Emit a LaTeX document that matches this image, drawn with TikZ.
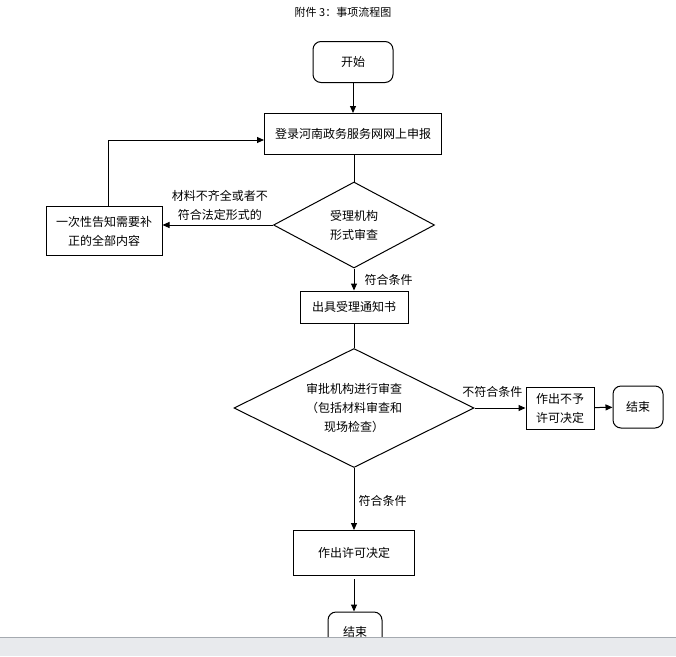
\documentclass[tikz,border=0pt]{standalone}
\usepackage{fontspec}
\setmainfont{Noto Sans CJK SC}
\usetikzlibrary{shapes.geometric,arrows.meta}
\definecolor{barfill}{RGB}{232,234,237}
\definecolor{barline}{RGB}{165,170,176}
\tikzset{
  txt/.style={font=\fontsize{12}{19}\selectfont, align=center, inner sep=0pt},
  stepbox/.style={txt, draw, line width=1pt, rectangle},
  roundbox/.style={txt, draw, line width=1pt, rectangle, rounded corners=8pt},
  decide/.style={txt, draw, line width=1pt, diamond},
  arr/.style={line width=1pt, -{Triangle[length=7pt,width=6pt]}}
}
\begin{document}
\begin{tikzpicture}[x=1pt,y=-1pt]
        \useasboundingbox (0,0) rectangle (676,656);
        \node[txt, font=\fontsize{11}{12}\selectfont] (title) at (343,12) {附件 3：事项流程图};
        % main column
        \node[roundbox, minimum width=80pt, minimum height=41pt] (start) at (353,62) {开始};
        \node[stepbox, minimum width=177pt, minimum height=41pt] (login) at (353,134) {登录河南政务服务网网上申报};
        \node[decide, aspect=1.87, minimum width=161pt, minimum height=86pt] (check) at (354,225) {受理机构\\形式审查};
        \node[stepbox, minimum width=116pt, minimum height=49pt] (supplement) at (104,231) {一次性告知需要补\\正的全部内容};
        \node[stepbox, minimum width=108pt, minimum height=32pt] (notify) at (354,307) {出具受理通知书};
        \node[decide, aspect=2, minimum width=240pt, minimum height=119pt] (review) at (354,408) {审批机构进行审查\\（包括材料审查和\\现场检查）};
        \node[stepbox, minimum width=68pt, minimum height=42pt] (refuse) at (560,408) {作出不予\\许可决定};
        \node[roundbox, minimum width=50pt, minimum height=42pt] (endA) at (638,407) {结束};
        \node[stepbox, minimum width=121pt, minimum height=45pt] (grant) at (354,553) {作出许可决定};
        \node[roundbox, minimum width=54pt, minimum height=40pt] (endB) at (355,632) {结束};
        % connectors
        \draw[arr] (start) -- (login);
        \draw[line width=1pt] (login.south -| check.north) -- (check.north);
        \draw[arr] (check.west) -- (check.west -| supplement.east)
            node[txt, pos=0.48, above=4pt] {材料不齐全或者不\\符合法定形式的};
        \coordinate (corner) at (108,140);
        \draw[arr] (supplement.north -| corner) -- (corner) -- (corner -| login.west);
        \draw[arr] (check.south) -- (notify.north) node[txt, midway, right=10pt] {符合条件};
        \draw[line width=1pt] (notify.south -| review.north) -- (review.north);
        \draw[arr] (review.east) -- (refuse.west) node[txt, pos=0.35, above=10pt] {不符合条件};
        \draw[arr] (refuse) -- (endA);
        \draw[arr] (review.south) -- (grant.north) node[txt, midway, right=4pt, yshift=-2pt] {符合条件};
        \draw[arr] ([yshift=-3pt]grant.south) -- (grant.south |- endB.north);
        % window edge
        \fill[barfill] (0,637) rectangle (676,656);
        \draw[barline] (0,637) -- (676,637);
    \end{tikzpicture}
\end{document}
